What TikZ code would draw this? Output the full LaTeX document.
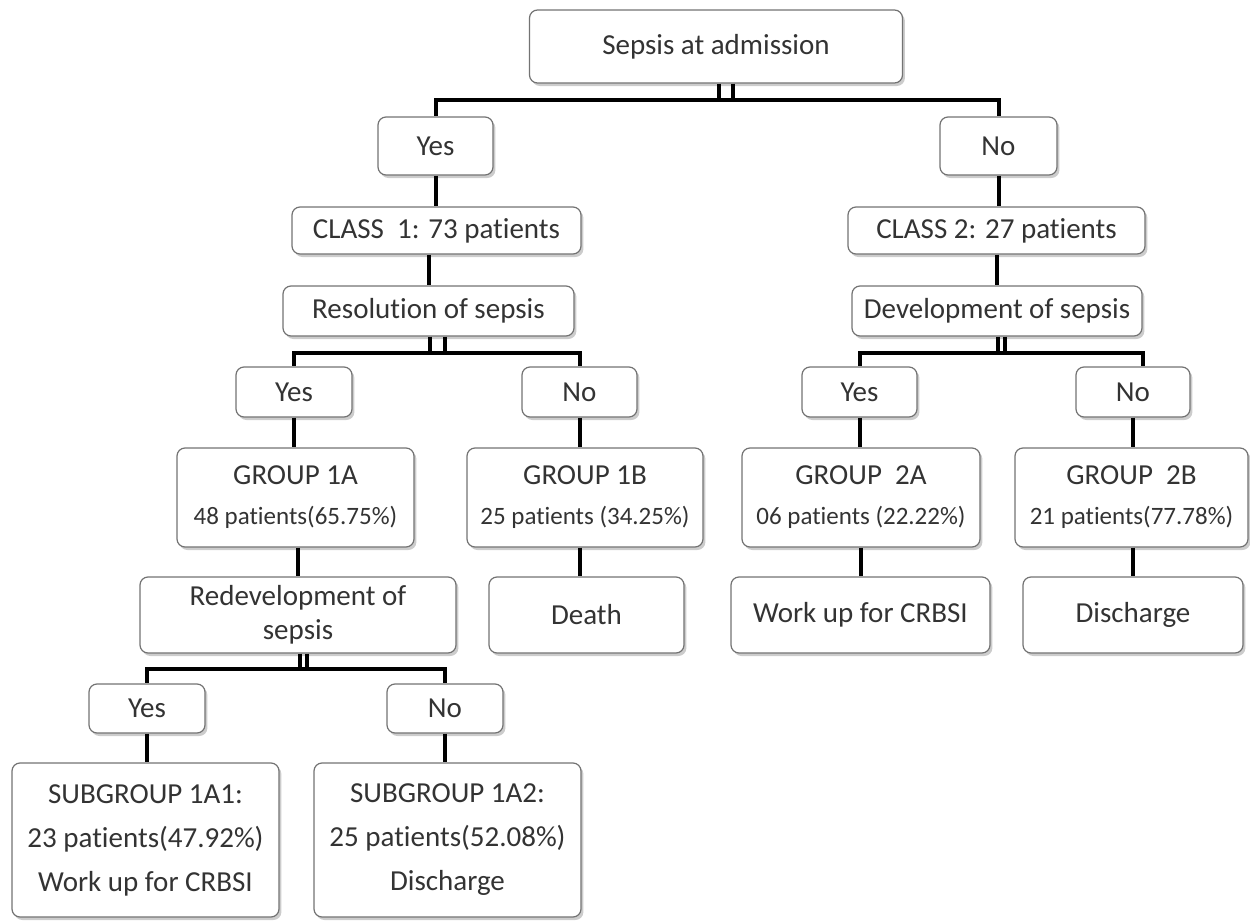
\documentclass[tikz,border=0pt]{standalone}
\usepackage{fontspec}
\setmainfont{Carlito}[Ligatures=NoCommon]
\usetikzlibrary{shadows}
\newcommand\cnt{\fontsize{12.5}{15}\selectfont}
\begin{document}
\begin{tikzpicture}[x=0.5pt,y=-0.5pt,font=\fontsize{14.5}{17}\selectfont,
	box/.style={draw=gray!90!black,line width=0.6pt,rounded corners=4pt,fill=white,text=black!80,align=center,inner sep=0pt,
		drop shadow={shadow xshift=1.2pt,shadow yshift=-1.5pt,opacity=0.4}},
	sz/.style 2 args={minimum width=#1*0.5pt,minimum height=#2*0.5pt},
	link/.style={line width=2pt,line join=miter}]
	\useasboundingbox (0,0) rectangle (1250,921);
	% levels 1-3
	\node[box,sz={373}{73}] (adm) at (716,46.5) {Sepsis at admission};
	\node[box,sz={115}{58}] (yes) at (435.5,146) {Yes};
	\node[box,sz={117}{58}] (no) at (998.5,146) {No};
	\node[box,sz={289}{47}] (cl1) at (436.5,230.5) {CLASS~ 1: 73 patients};
	\node[box,sz={297}{47}] (cl2) at (996.5,230.5) {CLASS 2: 27 patients};
	\node[box,sz={291}{50}] (res) at (428.5,311) {Resolution of sepsis};
	\node[box,sz={290}{50}] (dev) at (997,311) {Development of sepsis};
	% groups
	\node[box,sz={116}{50}] (yesA) at (294,392) {Yes};
	\node[box,sz={115}{50}] (noB) at (579.5,392) {No};
	\node[box,sz={115}{50}] (yesC) at (859.5,392) {Yes};
	\node[box,sz={114}{50}] (noD) at (1133,392) {No};
	\node[box,sz={237}{99}] (g1a) at (295.5,497.5) {GROUP 1A\\[3pt]{\cnt 48 patients(65.75\%)}};
	\node[box,sz={236}{99}] (g1b) at (585,497.5) {GROUP 1B\\[3pt]{\cnt 25 patients (34.25\%)}};
	\node[box,sz={238}{99}] (g2a) at (861,497.5) {GROUP~ 2A\\[3pt]{\cnt 06 patients (22.22\%)}};
	\node[box,sz={233}{99}] (g2b) at (1131.5,497.5) {GROUP~ 2B\\[3pt]{\cnt 21 patients(77.78\%)}};
	\node[box,sz={316}{76}] (redev) at (298,615) {Redevelopment of\\sepsis};
	\node[box,sz={195}{76}] (death) at (586.5,615) {Death};
	\node[box,sz={259}{76}] (work) at (860.5,615) {Work up for CRBSI};
	\node[box,sz={220}{76}] (disch) at (1133,615) {Discharge};
	% subgroups
	\node[box,sz={116}{49}] (yesE) at (147,708.5) {Yes};
	\node[box,sz={116}{49}] (noF) at (445,708.5) {No};
	\node[box,sz={267}{154}] (s1) at (145.5,840) {SUBGROUP 1A1:\\[5pt]23 patients(47.92\%)\\[5pt]Work up for CRBSI};
	\node[box,sz={267}{154}] (s2) at (447.5,840) {SUBGROUP 1A2:\\[5pt]25 patients(52.08\%)\\[5pt]Discharge};
	% splits
	\draw[link] ([xshift=8.5pt]adm.south) -- ++(0,16) -| (yes.north);
	\draw[link] ([xshift=1.5pt]adm.south) -- ++(0,16) -| (no.north);
	\draw[link] ([xshift=8.25pt]res.south) -- ++(0,16) -| (yesA.north);
	\draw[link] ([xshift=0.75pt]res.south) -- ++(0,16) -| (noB.north);
	\draw[link] ([xshift=4pt]dev.south) -- ++(0,16) -| (yesC.north);
	\draw[link] ([xshift=0.5pt]dev.south) -- ++(0,16) -| ([xshift=5pt]noD.north);
	\draw[link] ([xshift=4.5pt]redev.south) -- ++(0,15) -| (yesE.north);
	\draw[link] ([xshift=1pt]redev.south) -- ++(0,15) -| (noF.north);
	% straight links
	\draw[link] (yes.south) -- (yes.south |- cl1.north);
	\draw[link] (no.south) -- (no.south |- cl2.north);
	\draw[link] (res.north |- cl1.south) -- (res.north);
	\draw[link] (dev.north |- cl2.south) -- (dev.north);
	\draw[link] (yesA.south) -- (yesA.south |- g1a.north);
	\draw[link] (noB.south) -- (noB.south |- g1b.north);
	\draw[link] (yesC.south) -- (yesC.south |- g2a.north);
	\draw[link] (noD.south) -- (noD.south |- g2b.north);
	\draw[link] (redev.north |- g1a.south) -- (redev.north);
	\draw[link] (noB.south |- g1b.south) -- (noB.south |- death.north);
	\draw[link] (g2a.south) -- (g2a.south |- work.north);
	\draw[link] (disch.north |- g2b.south) -- (disch.north);
	\draw[link] (yesE.south) -- (yesE.south |- s1.north);
	\draw[link] (noF.south) -- (noF.south |- s2.north);
\end{tikzpicture}
\end{document}
